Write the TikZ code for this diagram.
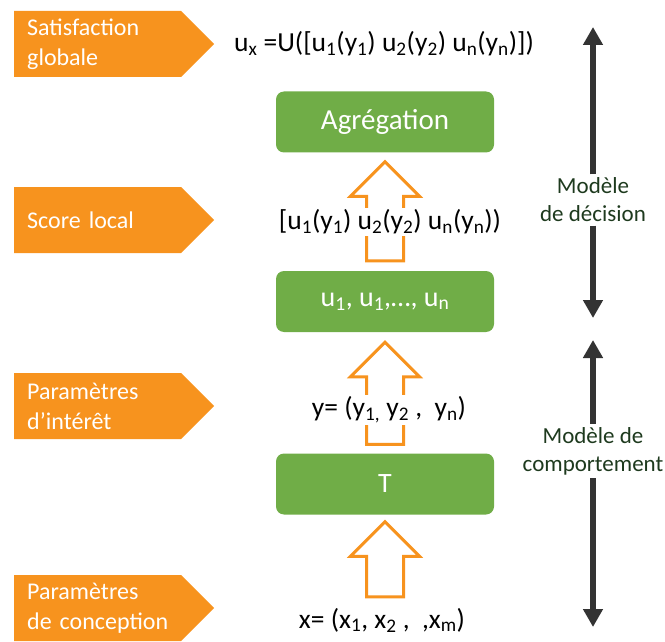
\documentclass[tikz,border=0pt]{standalone}
\usepackage{fontspec}
\setmainfont{Carlito}
\usepackage{xcolor}
\usetikzlibrary{arrows.meta, shapes.symbols, shapes.arrows, calc, positioning}

\definecolor{tagorange}{HTML}{F7931E}
\definecolor{boxgreen}{HTML}{70AD47}
\definecolor{notegreen}{HTML}{1E3A1E}
\newcommand{\ix}[1]{\textsubscript{#1}}

\begin{document}
\begin{tikzpicture}[x=1pt, y=-1pt,
    tag/.style={signal, signal to=east, signal pointer angle=90, fill=tagorange, text=white, align=left, text width=141pt, minimum height=66pt, inner xsep=13pt, font=\fontsize{24}{30}\selectfont, anchor=west},
    stage/.style={rounded corners=8pt, fill=boxgreen, text=white, minimum width=218pt, minimum height=61pt, font=\fontsize{28}{32}\selectfont},
    formula/.style={fill=white, inner sep=2pt, font=\fontsize{27.5}{32}\selectfont},
    hollow/.style={single arrow, draw=tagorange, line width=3pt, fill=white, shape border rotate=90, inner sep=17pt, minimum width=66pt, single arrow head extend=16pt, anchor=tip},
    note/.style={text=notegreen, align=center, font=\fontsize{23}{28}\selectfont},
    span/.style={line width=5.5pt, draw=black!80, -{Triangle[width=19pt, length=18pt]}}]
                        \useasboundingbox (0,0) rectangle (665,642);
                        % left labels
                        \node[tag] (glob) at (14, 44) {Satisfaction\\globale};
                        \node[tag] (loc) at (14, 220) {Score local};
                        \node[tag] (inter) at (14, 406) {Paramètres\\d’intérêt};
                        \node[tag] (conc) at (14, 608) {Paramètres\\de conception};
                        % green stages
                        \node[stage, font=\fontsize{29}{33}\selectfont] (agg) at (385, 122) {Agrégation};
                        \node[stage] (ubox) at (385, 301.5) {u\ix{1}, u\ix{1},…, u\ix{n}};
                        \node[stage] (tbox) at (385, 484) {T};
                        % hollow arrows
                        \node[hollow, minimum height=99pt] (up1) at ($(agg.south)+(0, 7)$) {};
                        \node[hollow, minimum height=102pt] (up2) at ($(ubox.south)+(0, 8)$) {};
                        \node[hollow, minimum height=75pt] (up3) at ($(tbox.south)+(0, 5)$) {};
                        % formulas
                        \node[formula] (ux) at (384, 44) {u\ix{x} =U([u\ix{1}(y\ix{1}) u\ix{2}(y\ix{2}) u\ix{n}(y\ix{n})])};
                        \node[formula] (uy) at (390, 222) {[u\ix{1}(y\ix{1}) u\ix{2}(y\ix{2}) u\ix{n}(y\ix{n}))};
                        \node[formula] (yvec) at (389, 410) {y= (y\ix{1,} y\ix{2} ,\ \ y\ix{n})};
                        \node[formula] (xvec) at (382, 620) {x= (x\ix{1}, x\ix{2} ,\ \ ,x\ix{m})};
                        % models on the right
                        \node[note] (dec) at (593, 200) {Modèle\\de décision};
                        \node[note] (comp) at (593, 451) {Modèle de\\comportement};
                        \coordinate (dectop) at (593, 27);
                        \coordinate (decbot) at (593, 318);
                        \coordinate (comptop) at (593, 340);
                        \coordinate (compbot) at (593, 627);
                        \draw[span] (dec) -- (dectop);
                        \draw[span] (dec) -- (decbot);
                        \draw[span] (comp) -- (comptop);
                        \draw[span] (comp) -- (compbot);
                    \end{tikzpicture}
\end{document}
